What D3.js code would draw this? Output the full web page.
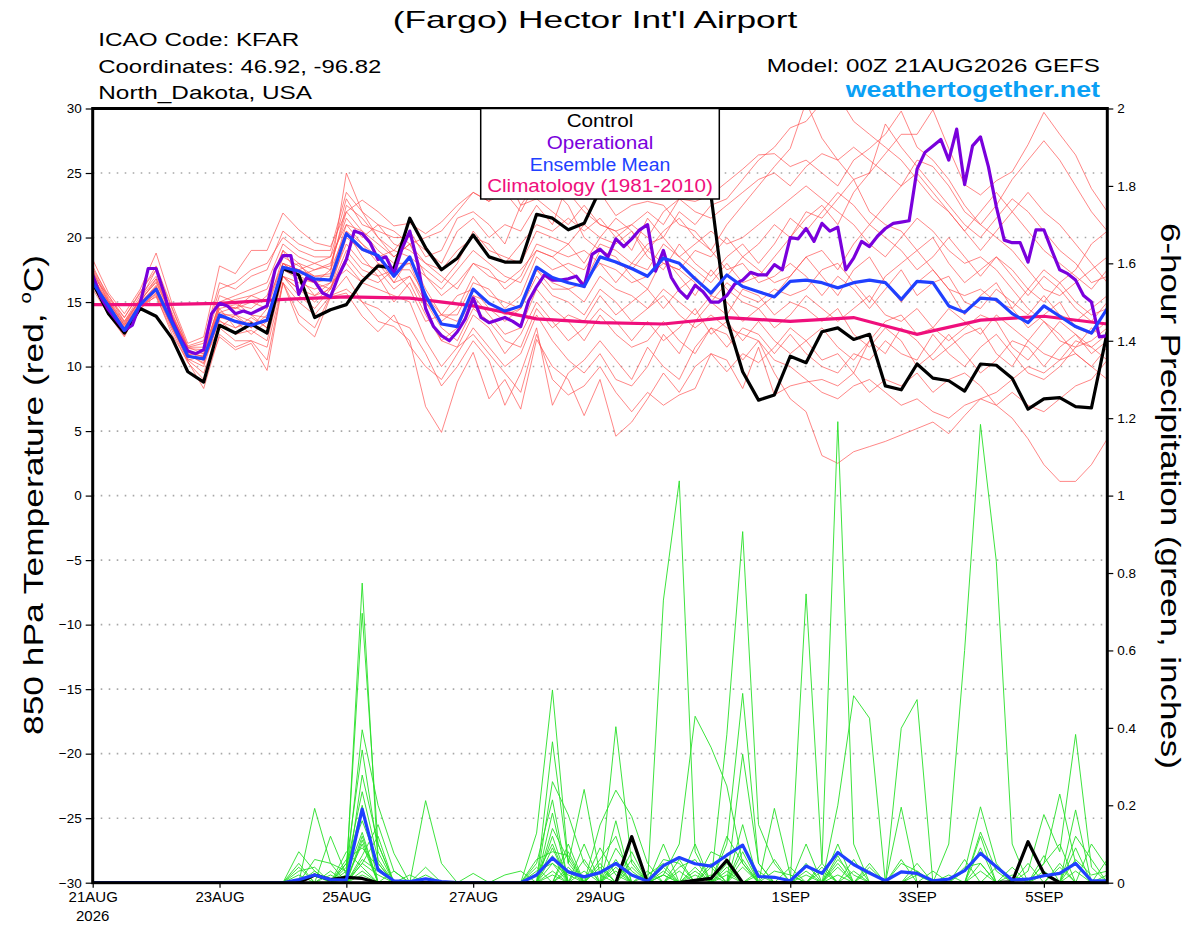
<!DOCTYPE html>
<html>
<head>
<meta charset="utf-8">
<script src="https://cdn.jsdelivr.net/npm/d3@7/dist/d3.min.js"></script>
<style>
  body { margin:0; background:#fff; }
  svg { display:block; }
  text { font-family:"Liberation Sans", Arial, Helvetica, sans-serif; }
</style>
</head>
<body>
<div id="chart"></div>
<script>
// ---- data (6-hourly steps unless noted) ----
var tickHours  = [0, 48, 96, 144, 192, 264, 312, 360];
var tickLabels = ["21AUG", "23AUG", "25AUG", "27AUG", "29AUG", "1SEP", "3SEP", "5SEP"];
var tempTicks  = [-30, -25, -20, -15, -10, -5, 0, 5, 10, 15, 20, 25, 30];
var precipTicks = [0, 0.2, 0.4, 0.6, 0.8, 1, 1.2, 1.4, 1.6, 1.8, 2];

var legendLabels = ["Control", "Operational", "Ensemble Mean", "Climatology (1981-2010)"];
var legendColors = ["#000000", "#7a00dc", "#2040ff", "#ef0f7c"];
var legendWidths = [66.7, 106.7, 140.7, 225.7];

// control run, 850 hPa temp
var controlTemp = [16.5,14.1,12.6,14.5,13.9,12.2,9.6,8.8,13.2,12.6,
  13.3,12.6,17.6,17.1,13.8,14.4,14.8,16.6,17.8,17.6,
  21.5,19.2,17.5,18.4,20.2,18.5,18.1,18.1,21.8,21.5,
  20.6,21.1,23.7,25.5,26.0,26.5,26.0,25.5,25.0,23.3,
  13.7,9.6,7.4,7.8,10.8,10.3,12.7,13.0,12.1,12.5,
  8.5,8.2,10.2,9.1,8.9,8.1,10.2,10.1,9.1,6.7,
  7.5,7.6,6.9,6.8,12.7];

// operational run, 3-hourly
var operTemp = [17.1,15.4,14.4,13.6,12.8,13.2,14.9,17.6,17.6,15.7,
  13.6,12.3,11.2,11.0,11.3,14.1,14.9,14.7,14.1,14.3,
  14.1,14.4,14.7,17.5,18.6,18.6,15.6,16.9,16.6,15.7,
  15.4,17.0,18.3,20.5,20.3,19.6,18.3,18.5,17.2,19.1,
  20.5,18.0,14.5,13.1,12.4,12.0,12.7,13.7,15.3,13.8,
  13.4,13.6,13.8,13.5,13.1,15.1,16.2,17.1,16.7,16.7,
  16.8,17.0,16.2,18.7,19.1,18.5,19.9,19.3,19.9,20.6,
  21.0,17.4,19.0,16.9,15.9,15.3,16.3,15.8,15.0,15.0,
  15.5,16.4,16.7,17.3,17.1,17.1,17.9,17.5,20.0,19.9,
  20.7,19.7,21.1,20.5,20.8,17.5,18.4,19.7,19.3,20.1,
  20.7,21.1,21.2,21.3,25.3,26.6,27.1,27.6,26.0,28.4,
  24.1,27.1,27.8,25.5,22.4,19.8,19.6,19.6,18.1,20.6,
  20.6,19.0,17.5,17.2,16.7,15.5,15.0,12.3,12.4];

var meanTemp = [16.5,14.7,12.8,14.8,16.0,13.4,10.8,10.6,14.0,13.5,
  13.2,13.6,17.7,17.4,16.8,16.7,20.3,19.1,18.6,17.0,
  18.5,15.5,13.3,13.1,16.0,14.9,14.3,14.7,17.7,16.9,
  16.5,16.2,18.5,18.1,17.6,17.0,18.4,18.0,16.8,15.7,
  17.1,16.2,15.8,15.4,16.6,16.7,16.5,16.1,16.5,16.7,
  16.5,15.2,16.6,16.5,14.7,14.2,15.3,15.2,14.1,13.4,
  14.7,13.9,13.1,12.6,14.5];

// climatology, daily
var climTemp = [14.8,14.8,14.9,15.2,15.4,15.3,14.7,13.7,13.4,13.3,13.8,13.5,13.8,12.5,13.6,13.9,13.3];

// ensemble members, 850 hPa temp
var ensTemp = [
  [17.0,15.0,13.2,15.0,16.8, 13.8,11.0,10.2,14.8,14.5, 15.0,14.5,18.5,17.8,17.0, 17.2,25.0,22.0,20.0,18.5, 19.5,17.0,15.5,16.5,18.0, 17.0,16.5,17.5,19.0,18.5, 19.5,18.0,20.0,21.5,20.5, 19.0,20.5,21.5,20.0,19.0, 21.0,22.5,24.0,25.5,26.9, 30.5,27.7,26.0,24.5,22.0, 21.0,20.5,19.0,20.0,18.0, 16.5,17.5,18.5,17.0,15.5, 17.0,16.0,14.5,13.5,15.0],
  [16.6,14.3,12.6,14.7,15.6, 13.0,10.5,9.5,13.0,12.0, 12.0,11.5,16.5,15.0,14.0, 15.5,17.0,15.0,13.5,13.1, 12.0,6.9,4.9,8.8,11.1, 7.5,9.0,6.7,12.1,10.0, 9.0,6.2,9.0,4.6,5.7, 7.5,9.5,8.0,10.0,11.0, 9.6,11.0,10.3,11.5,13.0, 12.0,10.5,11.0,9.5,12.0, 11.0,13.0,12.0,10.5,11.5, 12.5,13.0,11.0,10.0,12.0, 13.5,12.0,11.5,12.0,13.0],
  [16.8,14.8,12.9,15.0,16.2, 13.4,11.0,10.8,14.5,13.0, 13.5,12.5,17.0,16.0,15.5, 16.0,19.0,17.5,17.0,15.0, 16.5,14.0,12.0,13.0,15.5, 14.0,12.5,13.0,16.0,14.5, 13.5,12.0,14.0,12.5,11.5, 12.0,13.5,12.0,11.0,13.0, 12.5,10.5,12.0,10.5,10.0, 9.0,8.0,7.5,8.5,9.0, 8.0,7.0,7.5,6.5,6.0, 7.0,7.5,7.0,6.0,4.4, 2.4,1.1,1.1,2.4,4.4],
  [17.5,15.2,13.5,15.5,17.0, 14.0,11.5,11.5,15.5,15.0, 14.0,13.0,18.0,17.0,16.5, 17.5,20.5,19.5,18.0,17.5, 18.0,15.0,13.5,14.5,17.0, 15.5,15.0,14.5,17.5,16.0, 16.0,15.0,17.0,16.0,15.5, 14.5,15.5,14.0,13.0,14.0, 13.0,12.5,12.0,9.5,7.5, 6.5,3.1,2.5,3.4,3.8, 4.2,4.7,5.2,5.7,4.8, 6.2,7.5,8.0,9.0,10.0, 9.5,10.5,11.0,10.0,11.5],
  [18.3,15.7,14.1,16.0,18.8, 14.9,11.8,12.3,17.8,17.2, 19.0,19.0,21.9,20.6,19.6, 19.3,22.0,22.9,22.0,20.9, 21.1,20.3,21.2,22.5,23.5, 22.8,25.0,22.5,24.3,23.8, 22.5,20.0,19.0,18.0,17.5, 19.0,18.0,17.5,19.0,18.5, 20.0,18.5,19.5,21.0,20.0, 22.0,21.5,23.0,24.5,25.0, 26.5,28.0,28.0,29.9,26.9, 24.1,23.3,24.4,25.1,27.2, 29.7,28.0,26.4,23.8,22.0],
  [17.2,14.5,13.0,14.8,16.2, 13.5,10.8,10.5,14.0,14.0, 13.0,14.0,17.5,18.0,16.5, 16.0,20.0,19.0,18.5,16.5, 18.5,16.0,14.0,14.0,16.5, 16.0,14.5,15.5,18.5,17.5, 18.0,17.5,19.5,19.0,18.0, 17.5,19.5,18.5,17.5,16.5, 18.0,16.5,17.0,18.5,20.0, 21.5,22.5,21.0,23.5,25.0, 28.8,27.0,25.5,24.0,22.5, 21.0,20.0,21.5,23.0,22.0, 20.5,19.0,18.0,16.5,17.0],
  [16.0,14.0,12.3,14.7,15.4, 12.8,10.3,9.0,12.3,11.3, 11.8,9.7,16.5,13.4,12.3, 15.4,15.7,13.9,12.7,14.0, 11.6,10.0,9.0,11.0,13.0, 11.5,10.0,11.0,14.0,12.0, 10.5,9.5,11.0,9.0,8.5, 10.0,12.5,11.0,13.5,15.0, 14.0,16.0,15.5,14.0,15.0, 14.5,13.5,14.5,12.5,11.5, 13.0,12.0,10.0,11.0,12.5, 11.0,9.5,10.5,12.0,11.5, 10.0,11.5,12.5,11.0,12.0],
  [16.8,15.0,13.2,15.2,16.5, 13.9,11.2,11.0,14.5,14.8, 14.5,15.5,19.0,17.0,17.5, 18.0,21.5,20.0,21.0,19.5, 19.0,18.0,17.5,19.0,20.0, 19.5,18.0,19.5,21.0,20.5, 21.5,20.5,21.5,20.0,21.0, 20.0,22.0,23.0,22.8,23.3, 24.3,25.3,26.4,26.5,25.5, 26.0,25.0,24.0,26.0,26.9, 28.0,29.8,27.0,26.0,24.5, 22.5,21.0,20.0,19.0,17.5, 16.0,15.5,16.5,17.5,18.5],
  [16.3,14.6,12.9,14.9,15.8, 13.2,10.9,11.2,13.5,13.0, 13.8,13.0,17.0,16.5,16.0, 16.5,19.5,18.0,17.5,16.0, 17.0,14.5,12.0,11.5,14.0, 13.0,11.0,12.5,15.0,13.5, 12.0,13.0,14.5,13.5,12.0, 13.5,12.0,13.0,14.5,12.5, 13.5,12.0,13.5,12.0,11.0, 12.0,13.0,11.5,10.5,12.0, 13.5,14.0,12.5,13.0,14.5, 13.5,12.5,14.0,13.0,12.0, 11.0,10.5,12.0,11.5,10.5],
  [16.7,14.9,13.0,14.9,16.0, 13.6,10.6,10.0,13.8,13.5, 12.5,13.5,17.0,16.0,15.0, 16.2,18.0,16.5,16.0,15.5, 15.0,12.0,10.0,11.5,12.5, 11.0,9.5,8.0,12.5,9.0, 7.8,8.5,10.0,8.0,6.5, 8.0,7.0,7.8,8.3,11.0, 10.5,8.3,11.5,7.8,8.5, 8.8,9.0,8.5,9.5,8.0, 9.0,8.5,9.5,8.0,9.0, 9.5,8.5,7.0,8.0,7.0, 6.5,7.5,8.5,9.0,10.5],
  [17.8,15.3,13.8,15.8,17.5, 14.5,11.5,11.8,16.0,16.5, 17.5,18.0,20.0,19.0,18.5, 18.5,23.0,21.0,20.5,20.0, 20.0,19.0,18.0,20.5,21.5, 20.0,21.0,20.5,22.5,21.0, 24.3,23.8,23.5,21.7,22.5, 22.8,22.5,21.0,20.5,19.0, 17.5,18.0,16.5,17.0,18.0, 17.0,15.5,17.0,16.0,14.5, 16.0,17.5,15.5,16.5,17.0, 15.0,14.5,16.0,15.0,14.0, 15.5,14.0,13.5,14.5,15.5],
  [16.4,14.4,12.7,14.6,15.7, 13.1,10.5,10.8,14.2,13.8, 13.0,14.5,18.0,17.5,17.0, 17.0,21.0,20.5,19.0,18.0, 18.0,17.0,16.0,17.5,19.0, 18.0,17.0,16.5,19.0,18.5, 17.5,16.5,19.0,18.5,17.0, 16.0,18.5,17.0,15.5,17.5, 16.0,15.0,14.5,15.5,17.0, 18.5,17.0,15.5,17.5,18.5, 16.5,15.0,16.5,17.5,16.0, 14.0,15.5,16.5,14.5,13.0, 14.0,15.0,13.0,12.5,13.5],
  [17.0,15.5,13.5,15.2,17.5, 14.0,11.5,11.0,15.0,15.5, 16.0,16.5,19.5,18.5,18.0, 17.5,22.5,21.5,20.0,19.0, 20.5,18.5,19.0,21.5,22.0, 21.0,19.5,22.5,23.0,22.0, 21.0,22.5,21.0,20.5,19.0, 21.5,20.0,22.0,21.0,22.5, 23.0,24.5,26.0,27.0,28.5, 29.0,30.5,31.0,29.0,28.0, 27.0,26.0,24.5,23.0,22.0, 20.5,22.0,23.5,22.0,20.5, 19.0,18.0,17.0,16.0,17.5],
  [16.9,14.7,12.8,14.4,15.9, 13.3,10.9,10.3,13.6,12.5, 12.8,12.0,17.0,15.5,14.5, 16.0,18.5,17.0,16.5,17.5, 16.0,13.5,14.0,15.5,16.0, 14.5,13.5,14.5,17.0,15.5, 15.0,14.0,16.0,15.0,13.5, 14.5,16.0,15.0,14.0,15.5, 15.0,13.5,14.5,13.0,14.0, 15.5,14.5,13.5,14.5,15.5, 14.0,13.5,14.5,13.0,12.0, 13.0,14.0,13.5,11.5,10.5, 12.0,13.5,12.5,11.5,12.5],
  [17.4,15.0,13.3,15.3,16.8, 14.2,11.3,10.7,15.0,14.5, 15.5,15.0,18.0,17.5,18.0, 18.5,21.0,19.5,18.5,19.0, 18.5,17.5,16.5,18.0,20.5, 19.0,18.5,18.0,20.5,20.0, 19.5,21.0,20.0,19.5,20.5, 18.5,17.5,19.5,18.0,17.0, 18.5,19.5,18.0,19.5,21.5, 20.5,22.0,23.5,22.5,21.0, 22.5,24.0,25.0,23.5,22.0, 20.5,19.0,20.5,22.0,23.5, 22.0,21.0,19.5,18.0,16.5],
  [16.2,14.2,12.4,14.5,15.5, 12.5,10.4,8.3,12.5,11.5, 12.0,10.5,16.5,14.0,13.0, 15.5,16.0,15.0,14.5,13.5, 13.0,11.0,8.5,10.0,12.0, 10.5,7.0,9.5,13.0,7.0, 9.5,10.5,12.0,10.5,9.0, 11.5,10.0,9.0,11.5,13.0, 11.5,13.0,12.5,11.0,12.5, 11.0,10.0,9.5,11.0,10.5, 12.0,11.0,10.5,12.5,11.0, 10.0,11.5,12.5,11.0,9.5, 9.0,10.0,11.5,13.0,12.0],
  [16.6,14.8,13.1,14.9,16.3, 13.7,10.7,10.9,14.2,14.6, 14.0,13.8,17.5,16.8,16.5, 16.8,20.5,18.5,17.0,17.5, 17.5,15.5,14.0,13.5,15.5, 15.0,14.0,14.5,17.5,16.5, 16.0,16.5,18.0,17.5,16.5, 17.0,18.0,17.5,16.5,15.0, 16.5,15.5,15.0,16.0,15.5, 16.0,17.5,18.0,16.5,15.0, 17.0,18.0,19.0,17.5,16.0, 15.5,16.0,15.0,14.5,16.0, 17.5,16.5,15.0,14.0,14.5],
  [17.6,15.5,13.8,15.7,17.8, 14.6,11.6,12.0,16.5,16.0, 17.0,17.5,20.5,19.5,19.0, 19.0,23.5,22.0,21.0,20.5, 19.5,20.0,20.5,22.0,23.5, 22.8,23.5,22.0,24.3,23.8, 23.5,22.0,21.0,20.5,21.0, 22.0,21.0,23.0,22.0,21.5, 22.5,23.5,24.5,25.0,24.0, 25.5,26.5,26.0,27.0,26.0, 25.0,24.0,26.0,25.5,24.0, 22.0,21.0,22.5,24.5,26.0, 27.5,26.0,24.0,22.0,20.5],
  [16.5,14.0,12.5,15.0,16.0, 13.0,10.8,10.5,13.0,14.0, 13.5,12.5,18.0,17.0,15.5, 16.5,17.5,16.5,18.0,16.5, 17.0,15.0,13.0,12.0,14.5, 13.5,12.0,11.5,14.5,13.0, 14.0,13.5,15.5,14.0,15.0, 16.0,14.5,16.0,17.0,15.5, 17.0,18.5,17.5,16.5,17.0, 18.5,19.0,17.5,19.5,21.0, 20.0,19.0,17.5,18.5,20.0, 18.5,17.0,18.5,17.5,16.0, 15.0,16.5,17.5,19.5,20.5],
  [17.3,15.1,13.4,15.1,16.6, 13.9,11.4,11.3,14.8,15.2, 15.5,16.0,19.0,18.0,17.5, 17.8,22.0,20.5,19.5,18.5, 19.5,18.0,17.0,16.0,18.0, 17.5,16.0,17.0,19.5,19.0, 18.5,19.0,18.0,16.5,18.0, 19.5,20.0,18.5,19.5,20.5, 19.5,20.0,21.0,22.0,23.0, 24.0,23.0,22.0,21.0,19.5, 18.5,20.0,21.5,20.5,19.0, 18.0,18.5,17.5,16.0,14.5, 13.5,12.5,11.0,10.0,9.0]
];

// 6-hour precip, inches: control and ensemble mean
var controlPrecip = [0,0,0,0,0,0,0,0,0,0, 0,0,0,0,0.02,0.008,0.014,0.011,0,0,
  0,0,0,0,0,0,0,0,0,0, 0,0,0,0,0.119,0,0,0,0.006,0.011,
  0.058,0,0,0,0,0,0,0,0,0, 0,0,0,0,0,0,0,0,0.002,0.106,
  0.024,0,0,0,0];
var meanPrecip = [0,0,0,0,0,0,0,0,0,0, 0,0,0,0.008,0.02,0.008,0.007,0.19,0.033,0.005,
  0.003,0.01,0.003,0,0,0,0,0,0.02,0.064, 0.028,0.015,0.026,0.05,0.02,0.004,0.044,0.065,0.049,0.043,
  0.071,0.097,0.016,0.014,0.005,0.043,0.024,0.078,0.047,0.025, 0.005,0.028,0.024,0.005,0.009,0.031,0.076,0.041,0.007,0.009,
  0.018,0.024,0.05,0.005,0.005];

// ensemble members' precip, as [step, inches] where non-zero
var ensPrecip = [
  [[13,0.08],[14,0.03],[16,0.02],[17,0.774],[18,0.05],[29,0.05],[30,0.02],[36,0.02],[37,0.1],[38,0.43],[39,0.35],[40,0.25],[41,0.05],[47,0.02],[56,0.05]],
  [[14,0.192],[15,0.05],[16,0.03],[17,0.696],[18,0.1],[28,0.128],[29,0.498],[30,0.05],[33,0.05],[40,0.02],[45,0.746],[46,0.05],[52,0.02],[60,0.05],[61,0.229],[62,0.05]],
  [[13,0.05],[15,0.12],[16,0.02],[17,0.395],[18,0.2],[19,0.076],[21,0.02],[29,0.364],[30,0.05],[31,0.241],[32,0.02],[36,0.73],[37,1.038],[38,0.08],[43,0.03],[44,0.02],[55,0.03],[56,0.196],[57,0.05]],
  [[16,0.05],[17,0.343],[18,0.08],[21,0.212],[22,0.05],[29,0.261],[30,0.175],[31,0.05],[33,0.403],[34,0.05],[40,0.382],[41,0.907],[42,0.15],[43,0.05],[47,0.06],[48,0.02]],
  [[14,0.06],[15,0.05],[17,0.278],[18,0.1],[24,0.024],[28,0.05],[29,0.214],[32,0.149],[33,0.239],[34,0.171],[35,0.05],[40,0.1],[41,0.489],[42,0.05],[46,0.05],[47,1.191],[48,0.1],[51,0.05],[52,0.03]],
  [[13,0.04],[16,0.04],[17,0.235],[18,0.06],[20,0.02],[28,0.06],[29,0.08],[30,0.07],[33,0.089],[34,0.03],[41,0.332],[42,0.05],[47,0.2],[48,0.483],[49,0.425],[59,0.03],[60,0.176],[61,0.08],[62,0.383],[63,0.04]],
  [[16,0.05],[17,0.16],[18,0.05],[26,0.02],[27,0.03],[29,0.09],[32,0.06],[33,0.12],[35,0.02],[36,0.05],[39,0.08],[40,0.06],[45,0.05],[51,0.399],[52,0.473],[58,0.04],[62,0.188]],
  [[15,0.03],[17,0.12],[19,0.03],[29,0.12],[31,0.06],[36,0.06],[37,0.05],[41,0.1],[43,0.192],[44,0.02],[51,0.195],[54,0.1],[55,0.6],[56,1.184],[57,0.83],[58,0.1]],
  [[14,0.02],[16,0.06],[17,0.09],[18,0.04],[30,0.04],[32,0.05],[34,0.08],[36,0.03],[38,0.1],[40,0.12],[41,0.05],[46,0.03],[49,0.05],[56,0.131],[57,0.03],[60,0.05],[61,0.1]],
  [[13,0.02],[17,0.06],[18,0.03],[29,0.03],[33,0.04],[37,0.04],[38,0.06],[41,0.06],[45,0.03],[47,0.07],[55,0.04],[56,0.05],[62,0.06],[63,0.02],[64,0.03]],
  [[16,0.01],[17,0.1],[28,0.03],[29,0.05],[36,0.02],[39,0.04],[42,0.02],[47,0.04],[52,0.03],[60,0.03],[64,0.06]],
  [[17,0.05],[18,0.12],[29,0.02],[31,0.03],[38,0.04],[40,0.03],[48,0.06],[57,0.04],[61,0.05]],
  [[13,0.03],[14,0.04],[17,0.03],[30,0.1],[33,0.03],[37,0.06],[39,0.02],[46,0.04],[51,0.06],[63,0.1],[64,0.04]],
  [[16,0.08],[17,0.04],[29,0.14],[30,0.06],[34,0.04],[41,0.08],[44,0.04],[53,0.03],[56,0.09],[60,0.02]],
  [[15,0.02],[17,0.07],[18,0.15],[19,0.03],[28,0.04],[32,0.09],[33,0.02],[36,0.1],[38,0.03],[45,0.1],[49,0.03],[62,0.12],[63,0.06]],
  [[17,0.02],[29,0.18],[31,0.1],[35,0.03],[37,0.03],[40,0.05],[47,0.1],[55,0.06],[59,0.05]],
  [[14,0.03],[17,0.11],[21,0.04],[30,0.03],[33,0.16],[36,0.04],[41,0.04],[48,0.03],[52,0.05],[58,0.02],[62,0.09]],
  [[16,0.03],[17,0.2],[28,0.02],[29,0.1],[34,0.06],[39,0.05],[42,0.03],[45,0.02],[56,0.12],[61,0.04],[64,0.02]],
  [[17,0.05],[18,0.02],[30,0.08],[32,0.04],[36,0.02],[40,0.04],[43,0.06],[47,0.05],[54,0.02],[60,0.07]],
  [[16,0.02],[17,0.13],[29,0.07],[33,0.06],[38,0.02],[41,0.15],[49,0.04],[56,0.03],[62,0.03]]
];

// ---- layout ----
var W = 1200, H = 927;
var plot = {left: 92.7, right: 1107.3, top: 108.5, bottom: 882.7};

var svg = d3.select("#chart").append("svg").attr("width", W).attr("height", H);

var x = d3.scaleLinear().domain([0, 384]).range([plot.left, plot.right]);
var yT = d3.scaleLinear().domain([-30, 30]).range([plot.bottom, plot.top]);
var yP = d3.scaleLinear().domain([0, 2]).range([plot.bottom, plot.top]);

svg.append("clipPath").attr("id", "clip")
  .append("rect")
  .attr("x", plot.left).attr("y", plot.top)
  .attr("width", plot.right - plot.left).attr("height", plot.bottom - plot.top);

// dotted grid at temperature ticks
svg.append("g").selectAll("line")
  .data(tempTicks.filter(function(t) { return t > -30 && t < 30; }))
  .enter().append("line")
  .attr("x1", plot.left).attr("x2", plot.right)
  .attr("y1", function(d) { return yT(d); }).attr("y2", function(d) { return yT(d); })
  .attr("stroke", "#a8a8a8").attr("stroke-width", 1.6)
  .attr("stroke-dasharray", "1.6,6.4");

var lines = svg.append("g").attr("clip-path", "url(#clip)");

function line6(scale) {
  return d3.line().x(function(d, i) { return x(i * 6); }).y(function(d) { return scale(d); });
}
function expand(pairs) {
  var arr = d3.range(65).map(function() { return 0; });
  pairs.forEach(function(p) { arr[p[0]] = p[1]; });
  return arr;
}

// red ensemble temperatures
lines.selectAll(".ens").data(ensTemp).enter().append("path")
  .attr("class", "ens")
  .attr("d", line6(yT))
  .attr("fill", "none").attr("stroke", "#ff4d4d").attr("stroke-opacity", 0.85).attr("stroke-width", 0.8);

// green ensemble precip
lines.selectAll(".ensp").data(ensPrecip.map(expand)).enter().append("path")
  .attr("class", "ensp")
  .attr("d", line6(yP))
  .attr("fill", "none").attr("stroke", "#27e027").attr("stroke-width", 0.9);

// climatology (daily)
lines.append("path")
  .attr("d", d3.line().x(function(d, i) { return x(i * 24); }).y(function(d) { return yT(d); })(climTemp))
  .attr("fill", "none").attr("stroke", legendColors[3]).attr("stroke-width", 3.2);

// control
lines.append("path").attr("d", line6(yP)(controlPrecip))
  .attr("fill", "none").attr("stroke", legendColors[0]).attr("stroke-width", 3.2).attr("stroke-linejoin", "round");
lines.append("path").attr("d", line6(yT)(controlTemp))
  .attr("fill", "none").attr("stroke", legendColors[0]).attr("stroke-width", 3.2).attr("stroke-linejoin", "round");

// operational (3-hourly)
lines.append("path")
  .attr("d", d3.line().x(function(d, i) { return x(i * 3); }).y(function(d) { return yT(d); })(operTemp))
  .attr("fill", "none").attr("stroke", legendColors[1]).attr("stroke-width", 3.2).attr("stroke-linejoin", "round");

// ensemble mean
lines.append("path").attr("d", line6(yP)(meanPrecip))
  .attr("fill", "none").attr("stroke", legendColors[2]).attr("stroke-width", 3.2).attr("stroke-linejoin", "round");
lines.append("path").attr("d", line6(yT)(meanTemp))
  .attr("fill", "none").attr("stroke", legendColors[2]).attr("stroke-width", 3.2).attr("stroke-linejoin", "round");

// frame
svg.append("rect")
  .attr("x", plot.left).attr("y", plot.top)
  .attr("width", plot.right - plot.left).attr("height", plot.bottom - plot.top)
  .attr("fill", "none").attr("stroke", "#000").attr("stroke-width", 3);

// axes
var axL = svg.append("g").attr("transform", "translate(" + plot.left + ",0)")
  .call(d3.axisLeft(yT).tickValues(tempTicks).tickSize(7).tickPadding(4));
var axR = svg.append("g").attr("transform", "translate(" + plot.right + ",0)")
  .call(d3.axisRight(yP).tickValues(precipTicks).tickSize(6).tickPadding(4)
    .tickFormat(function(d) { return d3.format("")(+d.toFixed(1)); }));
var axB = svg.append("g").attr("transform", "translate(0," + plot.bottom + ")")
  .call(d3.axisBottom(x).tickValues(tickHours).tickSize(5).tickPadding(4)
    .tickFormat(function(d, i) { return tickLabels[i]; }));
[axL, axR, axB].forEach(function(a) {
  a.select(".domain").remove();
  a.selectAll("line").attr("stroke", "#000").attr("stroke-width", 1.2);
  a.selectAll("text").attr("fill", "#000").style("font-family", "'Liberation Sans', Arial, sans-serif");
});
axL.selectAll("text").style("font-size", "13.5px");
axR.selectAll("text").style("font-size", "13.5px");
axB.selectAll("text").style("font-size", "15px");
svg.append("text").attr("x", x(0)).attr("y", 921).attr("text-anchor", "middle")
  .style("font-size", "15px").text("2026");

// axis titles (glyphs in the picture are wide, so force the measured length)
var lt = svg.append("text").attr("transform", "translate(43,495) rotate(-90)")
  .attr("text-anchor", "middle").style("font-size", "28px")
  .attr("textLength", 480).attr("lengthAdjust", "spacingAndGlyphs");
lt.append("tspan").text("850 hPa Temperature (red, ");
lt.append("tspan").attr("dy", -12).style("font-size", "16px").text("o");
lt.append("tspan").attr("dy", 12).text("C)");
svg.append("text").attr("transform", "translate(1161,496) rotate(90)")
  .attr("text-anchor", "middle").style("font-size", "28px")
  .attr("textLength", 546).attr("lengthAdjust", "spacingAndGlyphs")
  .text("6-hour Precipitation (green, inches)");

// legend box
var lg = svg.append("g");
lg.append("rect").attr("x", 480.7).attr("y", plot.top).attr("width", 238.6).attr("height", 90.5)
  .attr("fill", "#fff").attr("stroke", "#000").attr("stroke-width", 1.5);
lg.selectAll("text").data(legendLabels).enter().append("text")
  .attr("x", function(d, i) { return 600 - legendWidths[i] / 2; })
  .attr("y", function(d, i) { return 127 + i * 21.8; })
  .attr("textLength", function(d, i) { return legendWidths[i]; })
  .attr("lengthAdjust", "spacingAndGlyphs")
  .style("font-size", "17.5px")
  .attr("fill", function(d, i) { return legendColors[i]; })
  .text(function(d) { return d; });

// headers
svg.append("text").attr("x", 392.7).attr("y", 27.5)
  .attr("textLength", 404.6).attr("lengthAdjust", "spacingAndGlyphs")
  .style("font-size", "24px").text("(Fargo) Hector Int'l Airport");
var hdr = ["ICAO Code: KFAR", "Coordinates: 46.92, -96.82", "North_Dakota, USA"];
var hdrWidths = [201, 283, 213.7];
svg.append("g").selectAll("text").data(hdr).enter().append("text")
  .attr("x", 98.3).attr("y", function(d, i) { return 46 + i * 26.7; })
  .attr("textLength", function(d, i) { return hdrWidths[i]; })
  .attr("lengthAdjust", "spacingAndGlyphs")
  .style("font-size", "18.5px").text(function(d) { return d; });
svg.append("text").attr("x", 766.7).attr("y", 71.7)
  .attr("textLength", 333.3).attr("lengthAdjust", "spacingAndGlyphs")
  .style("font-size", "18.5px").text("Model: 00Z 21AUG2026 GEFS");
svg.append("text").attr("x", 845.7).attr("y", 97.3)
  .attr("textLength", 254.3).attr("lengthAdjust", "spacingAndGlyphs")
  .style("font-size", "22px").style("font-weight", "bold").attr("fill", "#0aa0f5")
  .text("weathertogether.net");
</script>
</body>
</html>
